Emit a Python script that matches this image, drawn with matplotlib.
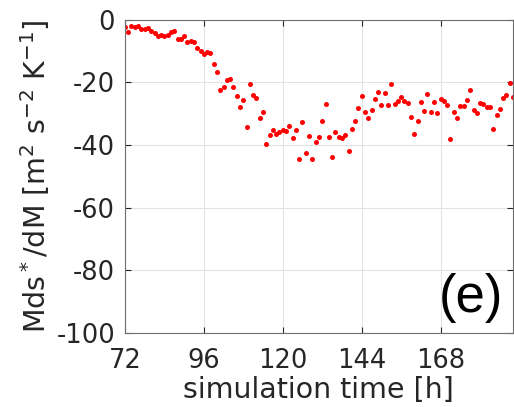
import numpy as np
import matplotlib
matplotlib.use('Agg')
import matplotlib.pyplot as plt

# hourly values, 72 h .. 190 h
hours = np.arange(72, 191)
dsdm = [
    -2.3, -3.9, -2.1, -2.3, -2.2, -3.0, -3.0, -2.7, -3.6, -4.2,
    -5.2, -5.0, -5.2, -4.9, -4.1, -3.8, -6.2, -6.2, -5.3, -7.1,
    -7.0, -7.1, -9.2, -9.9, -10.9, -10.5, -10.8, -14.2, -16.8, -22.4,
    -21.4, -19.4, -19.1, -21.5, -24.5, -27.8, -25.8, -34.2, -20.5, -24.1,
    -25.0, -31.4, -29.5, -39.6, -36.8, -35.4, -36.4, -36.0, -35.1, -35.6,
    -34.1, -37.7, -35.1, -44.4, -32.6, -42.6, -37.1, -44.5, -39.0, -37.5,
    -32.4, -27.1, -37.5, -43.9, -35.9, -37.4, -37.8, -36.7, -42.1, -34.8,
    -32.4, -28.2, -24.5, -29.6, -31.5, -28.8, -25.2, -23.2, -27.2, -23.6,
    -27.3, -20.6, -26.8, -25.9, -24.6, -25.9, -26.5, -31.0, -36.4, -32.3,
    -26.4, -29.3, -23.7, -29.5, -26.4, -29.9, -25.2, -26.1, -27.3, -38.0,
    -29.6, -31.5, -27.5, -27.5, -25.6, -22.6, -28.9, -29.7, -26.6, -26.9,
    -27.8, -28.0, -34.9, -30.4, -28.7, -25.0, -24.2, -20.1, -24.8,
]
xticks = [72, 96, 120, 144, 168]
yticks = [0, -20, -40, -60, -80, -100]

fg = '#262626'
plt.rcParams['font.family'] = 'DejaVu Sans'
plt.rcParams['mathtext.fontset'] = 'dejavusans'
plt.rcParams['axes.unicode_minus'] = False

fig = plt.figure(figsize=(5.14, 4.07), dpi=100)
ax = fig.add_axes([0.243, 0.182, 0.755, 0.770])

ax.plot(hours, dsdm, 'o', color='red', markersize=3.6, markeredgewidth=0)

ax.set_xlim(72, 190)
ax.set_ylim(-100, 0)
ax.set_xticks(xticks)
ax.set_yticks(yticks)
ax.grid(True, color='#e3e3e3', linewidth=0.8)
ax.set_axisbelow(True)

ax.tick_params(direction='in', length=4, width=0.8, top=True, right=True,
               labelsize=18.5, colors=fg)
ax.tick_params(axis='x', pad=11)
ax.tick_params(axis='y', pad=7)
for s in ax.spines.values():
    s.set_color('#6e6e6e')
    s.set_linewidth(0.8)

ax.set_xlabel('simulation time [h]', fontsize=20.5, color=fg, labelpad=1)
ax.set_ylabel(r'Mds$^*$/dM [m$^2$ s$^{-2}$ K$^{-1}$]', fontsize=20.5,
              color=fg, labelpad=3)

ax.text(0.891, 0.067, '(e)', transform=ax.transAxes, fontsize=38,
        family='Liberation Sans', ha='center', va='baseline', color='black')

fig.savefig('out.png', dpi=100)
